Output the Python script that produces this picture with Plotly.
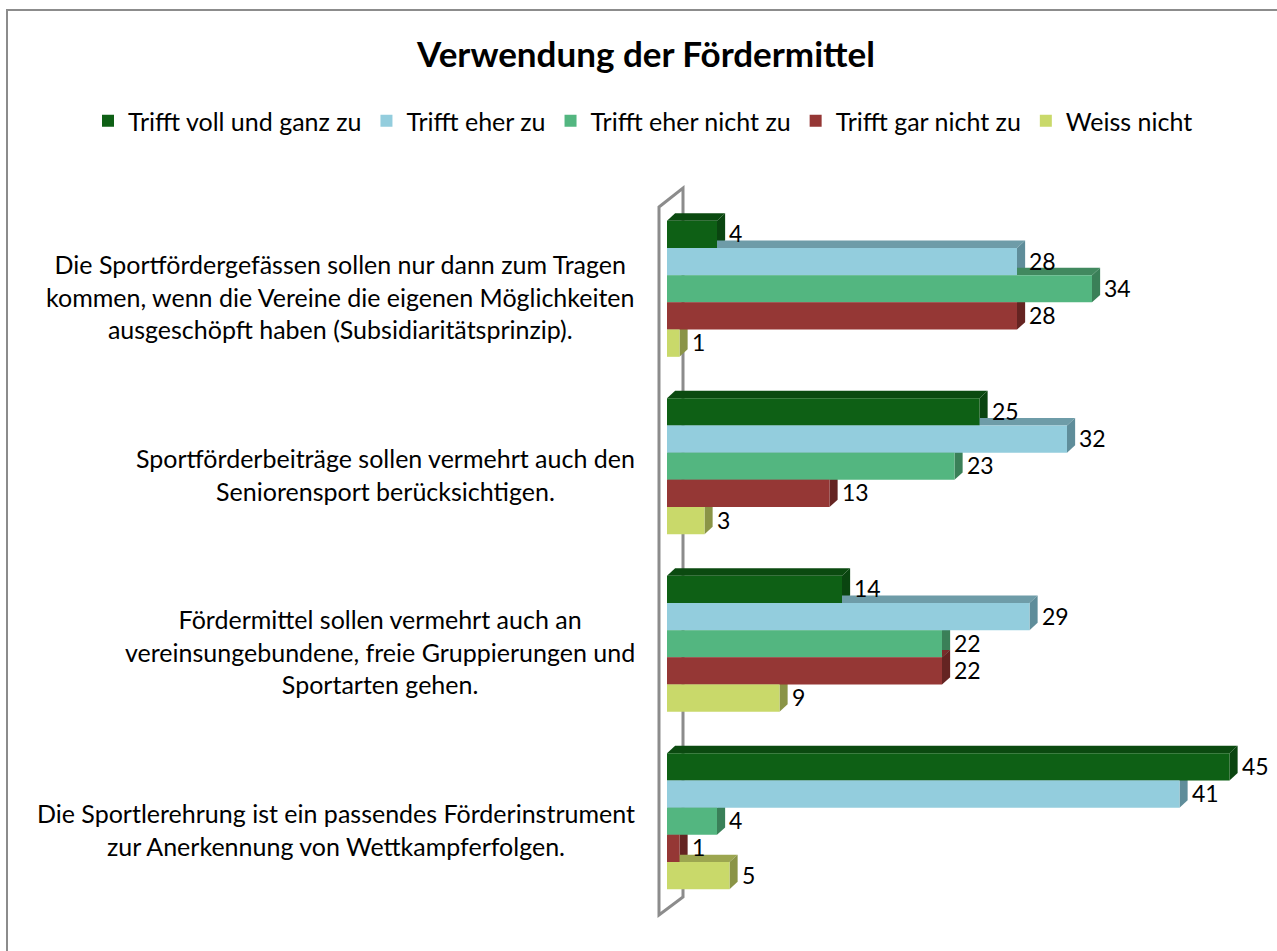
import plotly.graph_objects as go

categories = [
    "Die Sportfördergefässen sollen nur dann zum Tragen<br>kommen, wenn die Vereine die eigenen Möglichkeiten<br>ausgeschöpft haben (Subsidiaritätsprinzip).",
    "Sportförderbeiträge sollen vermehrt auch den<br>Seniorensport berücksichtigen.",
    "Fördermittel sollen vermehrt auch an<br>vereinsungebundene, freie Gruppierungen und<br>Sportarten gehen.",
    "Die Sportlerehrung ist ein passendes Förderinstrument<br>zur Anerkennung von Wettkampferfolgen.",
]
series_names = ["Trifft voll und ganz zu", "Trifft eher zu", "Trifft eher nicht zu", "Trifft gar nicht zu", "Weiss nicht"]
voll = [4, 25, 14, 45]
eher = [28, 32, 29, 41]
eher_nicht = [34, 23, 22, 4]
gar_nicht = [28, 13, 22, 1]
weiss_nicht = [1, 3, 9, 5]
series_values = [voll, eher, eher_nicht, gar_nicht, weiss_nicht]

colors = ["#0E6015", "#93CDDD", "#53B680", "#953735", "#C9D96A"]
side_colors = ["#0A4510", "#5F8D9A", "#3A8058", "#652422", "#8A9446"]
top_colors = ["#0B4A10", "#6E9CA8", "#41895F", "#7A2B2A", "#9CA650"]

FONT = "Lato, Open Sans, sans-serif"

fig = go.Figure()
for name, vals, col in zip(series_names, series_values, colors):
    fig.add_trace(go.Bar(
        y=categories, x=vals, name=name, orientation="h",
        marker=dict(color=col, line=dict(width=0)),
        cliponaxis=False,
    ))

# pseudo-3D faces and data labels computed from the data
bargap = 0.233
n = len(series_names)
bw = (1 - bargap) / n
dx = 0.65   # depth in x units
dy = 0.042  # depth in category units
shapes = []
annotations = []
for si, vals in enumerate(series_values):
    for ci, v in enumerate(vals):
        ytop = ci - (1 - bargap) / 2 + si * bw
        ybot = ytop + bw
        shapes.append(dict(type="path", xref="x", yref="y", layer="below",
                           path=f"M 0,{ytop} L {dx},{ytop - dy} L {v + dx},{ytop - dy} L {v},{ytop} Z",
                           fillcolor=top_colors[si], line=dict(width=0)))
        shapes.append(dict(type="path", xref="x", yref="y", layer="below",
                           path=f"M {v},{ytop} L {v + dx},{ytop - dy} L {v + dx},{ybot - dy} L {v},{ybot} Z",
                           fillcolor=side_colors[si], line=dict(width=0)))
        annotations.append(dict(xref="x", yref="y", x=v + dx, y=(ytop + ybot) / 2, text=str(v),
                                showarrow=False, xanchor="left", yanchor="middle", xshift=2, yshift=1,
                                font=dict(size=23, color="black", family=FONT)))

# back wall bracket and chart frame (paper coords)
L, R, T, B = 667, 1242, 200, 910
W, H = R - L, B - T
def px(xp):
    return (xp - L) / W
def py(yp):
    return (B - yp) / H
wall = f"M {px(659)},{py(207)} L {px(683)},{py(188)} L {px(683)},{py(897)} L {px(659)},{py(915)} Z"
shapes.insert(0, dict(type="path", xref="paper", yref="paper", layer="below", path=wall,
                      line=dict(color="#8C8C8C", width=3), fillcolor="rgba(0,0,0,0)"))
shapes.append(dict(type="rect", xref="paper", yref="paper", layer="below",
                   x0=px(7), y0=py(970), x1=px(1300), y1=py(10),
                   line=dict(color="#8C8C8C", width=2), fillcolor="rgba(0,0,0,0)"))

for ci, cat in enumerate(categories):
    annotations.append(dict(xref="paper", yref="y", x=px(637), y=ci, text=cat, showarrow=False,
                            xanchor="right", yanchor="middle", align="center", yshift=-8,
                            font=dict(size=25, color="black", family=FONT)))

fig.update_layout(
    width=1277, height=951,
    margin=dict(l=L, r=1277 - R, t=T, b=951 - B),
    paper_bgcolor="white", plot_bgcolor="white",
    barmode="group", bargap=bargap, bargroupgap=0,
    title=dict(text="<b>Verwendung der Fördermittel</b>", x=646 / 1277, xanchor="center",
               y=1 - 55 / 951, yanchor="middle",
               font=dict(size=35, color="black", family=FONT)),
    legend=dict(orientation="h", x=px(88), xanchor="left",
                y=py(121), yanchor="middle",
                font=dict(size=25, color="black", family=FONT), itemwidth=30, traceorder="normal",
                itemclick=False, tracegroupgap=0),
    xaxis=dict(range=[0, 46], visible=False, showgrid=False, zeroline=False),
    yaxis=dict(autorange="reversed", showticklabels=False, showgrid=False, zeroline=False, showline=False,
               ticks=""),
    shapes=shapes, annotations=annotations,
    showlegend=True,
)
fig.write_html("out.html", config={"displayModeBar": False},
               post_script="document.body.style.margin='0';document.body.style.overflow='hidden';")
